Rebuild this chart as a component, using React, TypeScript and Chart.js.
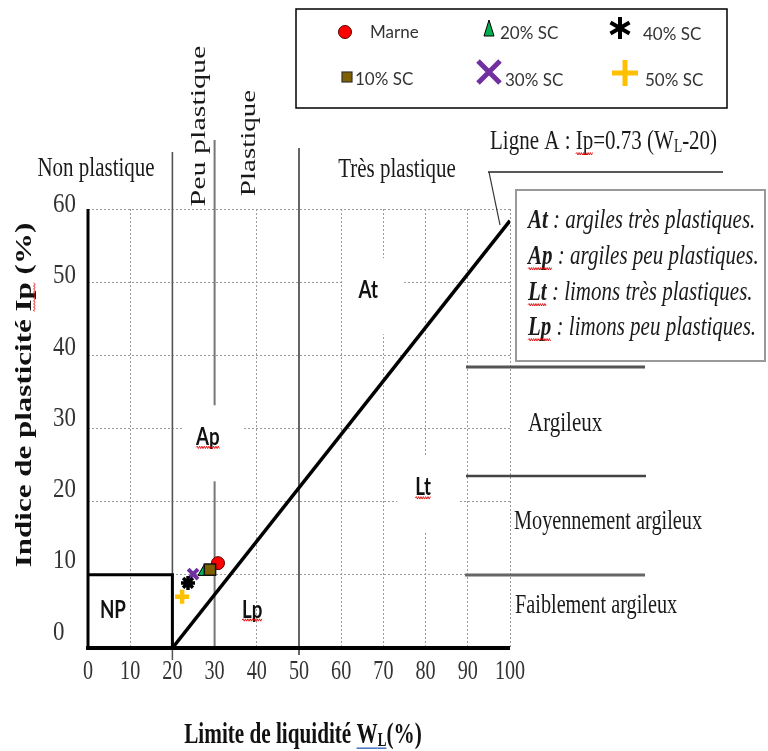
import React, { useEffect, useRef } from 'react';
import { Chart, registerables } from 'chart.js';
Chart.register(...registerables);

// ---------- data ----------
const xTickValues = [0, 10, 20, 30, 40, 50, 60, 70, 80, 90, 100];
const xTickLabels = ['0', '10', '20', '30', '40', '50', '60', '70', '80', '90', '100'];
const yTickValues = [0, 10, 20, 30, 40, 50, 60];
const yTickLabels = ['0', '10', '20', '30', '40', '50', '60'];

const seriesNames = ['Marne', '10% SC', '20% SC', '30% SC', '40% SC', '50% SC'];
const seriesWL = [30.8, 28.9, 27.5, 24.9, 23.7, 22.3];
const seriesIp = [11.6, 10.7, 10.4, 10.1, 8.9, 7.0];

const aLineWL = [20, 100];
const aLineIp = [0, 58.4];

const regionNames = ['At', 'Ap', 'Lt', 'Lp', 'NP'];
const regionWL = [66.4, 28.4, 79.4, 38.9, 5.9];
const regionIp = [48.9, 28.8, 21.9, 5.2, 5.1];

// ---------- styles ----------
const SERIF = '"Liberation Serif","Times New Roman",serif';
const SANS = 'Lato,"Open Sans",sans-serif';

const pointStyles = [
  { pointStyle: 'circle', radius: 6.5, bg: '#ff0000', border: '#550000', bw: 1, order: 1 },
  { pointStyle: 'rect', radius: 8, bg: '#7f6000', border: '#111111', bw: 1.5, order: 0 },
  { pointStyle: 'triangle', radius: 7, bg: '#00b050', border: '#000000', bw: 1, order: 2 },
  { pointStyle: 'crossRot', radius: 7, bg: '#7030a0', border: '#7030a0', bw: 4, order: 4 },
  { pointStyle: 'star', radius: 7, bg: '#000000', border: '#000000', bw: 3.5, order: 3 },
  { pointStyle: 'cross', radius: 7, bg: '#ffc000', border: '#ffc000', bw: 4.5, order: 5 },
];

type Seg = { t: string; font: string; dy?: number; ul?: 'wavy' | 'blue' };

function drawRich(
  ctx: CanvasRenderingContext2D,
  segs: Seg[],
  x: number,
  y: number,
  align: 'left' | 'center' | 'right',
  sx: number,
  color: string,
  rot = false,
  fs = 28
) {
  ctx.save();
  ctx.translate(x, y);
  if (rot) {
    ctx.rotate(-Math.PI / 2);
    ctx.scale(1, sx);
  } else {
    ctx.scale(sx, 1);
  }
  ctx.textBaseline = 'middle';
  ctx.textAlign = 'left';
  let total = 0;
  const widths = segs.map((s) => {
    ctx.font = s.font;
    const w = ctx.measureText(s.t).width;
    total += w;
    return w;
  });
  let cx = align === 'left' ? 0 : align === 'center' ? -total / 2 : -total;
  segs.forEach((s, i) => {
    ctx.font = s.font;
    ctx.fillStyle = color;
    ctx.fillText(s.t, cx, s.dy || 0);
    if (s.ul) {
      const uy = fs * 0.42;
      if (s.ul === 'blue') {
        ctx.strokeStyle = '#4472c4';
        ctx.lineWidth = 1.5;
        ctx.beginPath();
        ctx.moveTo(cx, uy);
        ctx.lineTo(cx + widths[i], uy);
        ctx.stroke();
      } else {
        ctx.strokeStyle = '#e00000';
        ctx.lineWidth = 1;
        ctx.beginPath();
        let up = true;
        ctx.moveTo(cx, uy);
        for (let px = cx + 1.5; px <= cx + widths[i]; px += 1.5) {
          ctx.lineTo(px, uy + (up ? -1.2 : 1.2));
          up = !up;
        }
        ctx.stroke();
      }
    }
    cx += widths[i];
  });
  ctx.restore();
}

function txt(
  ctx: CanvasRenderingContext2D,
  t: string,
  x: number,
  y: number,
  font: string,
  align: 'left' | 'center' | 'right',
  sx: number,
  color = '#1a1a1a',
  rot = false
) {
  drawRich(ctx, [{ t, font }], x, y, align, sx, color, rot);
}

function line(ctx: CanvasRenderingContext2D, x1: number, y1: number, x2: number, y2: number, color: string, w: number) {
  ctx.save();
  ctx.strokeStyle = color;
  ctx.lineWidth = w;
  ctx.setLineDash([]);
  ctx.beginPath();
  ctx.moveTo(x1, y1);
  ctx.lineTo(x2, y2);
  ctx.stroke();
  ctx.restore();
}

const decor = {
  id: 'decor',
  beforeDraw(chart: any) {
    const ctx = chart.ctx;
    ctx.save();
    ctx.fillStyle = '#ffffff';
    ctx.fillRect(0, 0, chart.width, chart.height);
    ctx.restore();
  },
  beforeDatasetsDraw(chart: any) {
    const ctx: CanvasRenderingContext2D = chart.ctx;
    const xs = chart.scales.x;
    const ys = chart.scales.y;
    const a = chart.chartArea;
    const X = (v: number) => xs.getPixelForValue(v);
    const Y = (v: number) => ys.getPixelForValue(v);

    // class boundaries
    line(ctx, X(30), 140, X(30), a.bottom, '#777', 2);
    line(ctx, X(50), 148, X(50), a.bottom + 7, '#666', 2);
    line(ctx, X(20), 152, X(20), Y(10), '#555', 1.6);
    line(ctx, X(20), a.bottom, X(20), a.bottom + 12, '#555', 1.5);

    // white gaps behind region labels
    ctx.save();
    ctx.fillStyle = '#ffffff';
    [0, 1, 2].forEach((i) => {
      const cx = X(regionWL[i]);
      const cy = Y(regionIp[i]);
      ctx.fillRect(cx - 26, cy - 32, 62, 76);
    });
    ctx.restore();

    // NP box
    ctx.save();
    ctx.strokeStyle = '#000';
    ctx.lineWidth = 3;
    ctx.beginPath();
    ctx.moveTo(X(0), Y(10));
    ctx.lineTo(X(20), Y(10));
    ctx.lineTo(X(20), Y(0));
    ctx.stroke();
    ctx.restore();

    // axes
    line(ctx, a.left, a.top, a.left, a.bottom + 2, '#000', 3);
    line(ctx, a.left - 2, a.bottom, a.right, a.bottom, '#000', 4);
  },
  afterDraw(chart: any) {
    const ctx: CanvasRenderingContext2D = chart.ctx;
    const xs = chart.scales.x;
    const ys = chart.scales.y;
    const X = (v: number) => xs.getPixelForValue(v);
    const Y = (v: number) => ys.getPixelForValue(v);

    // tick labels
    xTickValues.forEach((v, i) => {
      txt(ctx, xTickLabels[i], X(v), 672, `28px ${SERIF}`, 'center', 0.72, '#333');
    });
    yTickValues.forEach((v, i) => {
      txt(ctx, yTickLabels[i], 53, Y(v) - 4 - (60 - v) * 0.19, `27px ${SERIF}`, 'left', 0.85, '#333');
    });

    // axis titles
    drawRich(
      ctx,
      [
        { t: 'Limite de liquidité ', font: `bold 29px ${SERIF}` },
        { t: 'W', font: `bold 29px ${SERIF}`, ul: 'blue' },
        { t: 'L', font: `bold 18px ${SERIF}`, dy: 5, ul: 'blue' },
        { t: '(%)', font: `bold 29px ${SERIF}` },
      ],
      303,
      736,
      'center',
      0.73,
      '#111',
      false,
      29
    );
    drawRich(
      ctx,
      [
        { t: 'Indice de plasticité ', font: `bold 31px ${SERIF}` },
        { t: 'Ip', font: `bold 31px ${SERIF}`, ul: 'wavy' },
        { t: ' (%)', font: `bold 31px ${SERIF}` },
      ],
      25,
      395,
      'center',
      0.72,
      '#111',
      true,
      31
    );

    // region labels
    regionNames.forEach((n, i) => {
      drawRich(
        ctx,
        [{ t: n, font: `bold 24px ${SANS}`, ul: i >= 1 && i <= 3 ? 'wavy' : undefined }],
        X(regionWL[i]),
        Y(regionIp[i]),
        'center',
        0.78,
        '#111',
        false,
        24
      );
    });

    // plasticity headers
    txt(ctx, 'Non plastique', 96, 169, `28px ${SERIF}`, 'center', 0.75);
    txt(ctx, 'Peu plastique', 199, 126, `30px ${SERIF}`, 'center', 0.7, '#1a1a1a', true);
    txt(ctx, 'Plastique', 250, 143, `29px ${SERIF}`, 'center', 0.7, '#1a1a1a', true);
    txt(ctx, 'Très plastique', 397, 170, `28px ${SERIF}`, 'center', 0.75);

    // Ligne A
    drawRich(
      ctx,
      [
        { t: 'Ligne A : ', font: `28px ${SERIF}` },
        { t: 'Ip', font: `28px ${SERIF}`, ul: 'wavy' },
        { t: '=0.73 (W', font: `28px ${SERIF}` },
        { t: 'L', font: `18px ${SERIF}`, dy: 5 },
        { t: '-20)', font: `28px ${SERIF}` },
      ],
      490,
      142,
      'left',
      0.75,
      '#1a1a1a',
      false,
      28
    );
    line(ctx, 488, 172, 723, 172, '#222', 1.5);
    line(ctx, 489, 172, 500, 225, '#333', 1.2);

    // definitions box
    ctx.save();
    ctx.strokeStyle = '#999';
    ctx.lineWidth = 2;
    ctx.strokeRect(516, 190, 249, 171);
    ctx.restore();
    const defs: [string, string][] = [
      ['At', ' : argiles très plastiques.'],
      ['Ap', ' : argiles peu plastiques.'],
      ['Lt', ' : limons très plastiques.'],
      ['Lp', ' : limons peu plastiques.'],
    ];
    const defY = [221, 257, 293, 328];
    defs.forEach((d, i) => {
      drawRich(
        ctx,
        [
          { t: d[0], font: `italic bold 28px ${SERIF}`, ul: i > 0 ? 'wavy' : undefined },
          { t: d[1], font: `italic 28px ${SERIF}` },
        ],
        528,
        defY[i],
        'left',
        0.75,
        '#1a1a1a',
        false,
        28
      );
    });

    // clay classes
    line(ctx, 466, 367, 645, 367, '#555', 3);
    line(ctx, 466, 476, 646, 476, '#444', 2.5);
    line(ctx, 465, 575, 645, 575, '#666', 3);
    txt(ctx, 'Argileux', 528, 424, `28px ${SERIF}`, 'left', 0.75);
    txt(ctx, 'Moyennement argileux', 514, 522, `27px ${SERIF}`, 'left', 0.75);
    txt(ctx, 'Faiblement argileux', 515, 606, `27px ${SERIF}`, 'left', 0.75);

    // legend
    ctx.save();
    ctx.strokeStyle = '#000';
    ctx.lineWidth = 1.5;
    ctx.strokeRect(296, 9, 431, 99);
    // Marne circle
    ctx.beginPath();
    ctx.arc(345, 32, 6.5, 0, Math.PI * 2);
    ctx.fillStyle = pointStyles[0].bg;
    ctx.fill();
    ctx.strokeStyle = '#550000';
    ctx.lineWidth = 1;
    ctx.stroke();
    // 20% triangle
    ctx.beginPath();
    ctx.moveTo(489, 20);
    ctx.lineTo(494, 36);
    ctx.lineTo(484, 36);
    ctx.closePath();
    ctx.fillStyle = pointStyles[2].bg;
    ctx.fill();
    ctx.strokeStyle = '#000';
    ctx.lineWidth = 1;
    ctx.stroke();
    // 40% star
    ctx.strokeStyle = '#000';
    ctx.lineWidth = 4;
    ctx.beginPath();
    for (let k = 0; k < 3; k++) {
      const ang = Math.PI / 2 + (k * Math.PI) / 3;
      ctx.moveTo(620 + Math.cos(ang) * 11, 28 - Math.sin(ang) * 11);
      ctx.lineTo(620 - Math.cos(ang) * 11, 28 + Math.sin(ang) * 11);
    }
    ctx.stroke();
    // 10% square
    ctx.fillStyle = pointStyles[1].bg;
    ctx.fillRect(342, 72, 10, 10);
    ctx.strokeStyle = '#333';
    ctx.lineWidth = 1.2;
    ctx.strokeRect(342, 72, 10, 10);
    // 30% X
    ctx.strokeStyle = pointStyles[3].border;
    ctx.lineWidth = 5;
    ctx.beginPath();
    ctx.moveTo(478, 61);
    ctx.lineTo(500, 83);
    ctx.moveTo(500, 61);
    ctx.lineTo(478, 83);
    ctx.stroke();
    // 50% plus
    ctx.strokeStyle = pointStyles[5].border;
    ctx.lineWidth = 5;
    ctx.beginPath();
    ctx.moveTo(612, 73);
    ctx.lineTo(638, 73);
    ctx.moveTo(625, 60);
    ctx.lineTo(625, 86);
    ctx.stroke();
    ctx.restore();

    const lf = `17px ${SANS}`;
    txt(ctx, seriesNames[0], 370, 33, lf, 'left', 1, '#333');
    txt(ctx, seriesNames[2], 500, 34, lf, 'left', 1, '#333');
    txt(ctx, seriesNames[4], 643, 35, lf, 'left', 1, '#333');
    txt(ctx, seriesNames[1], 355, 80, lf, 'left', 1, '#333');
    txt(ctx, seriesNames[3], 505, 81, lf, 'left', 1, '#333');
    txt(ctx, seriesNames[5], 645, 81, lf, 'left', 1, '#333');
  },
};

export default function App() {
  const ref = useRef<HTMLCanvasElement>(null);
  useEffect(() => {
    const datasets: any[] = seriesNames.map((name, i) => ({
      label: name,
      data: [{ x: seriesWL[i], y: seriesIp[i] }],
      pointStyle: pointStyles[i].pointStyle,
      pointRadius: pointStyles[i].radius,
      pointBackgroundColor: pointStyles[i].bg,
      pointBorderColor: pointStyles[i].border,
      pointBorderWidth: pointStyles[i].bw,
      order: pointStyles[i].order,
    }));
    datasets.push({
      label: 'Ligne A',
      data: aLineWL.map((x, i) => ({ x, y: aLineIp[i] })),
      showLine: true,
      borderColor: '#000',
      borderWidth: 3.5,
      pointRadius: 0,
      order: 10,
    });
    const chart = new Chart(ref.current!, {
      type: 'scatter',
      data: { datasets },
      options: {
        responsive: false,
        animation: false,
        layout: { padding: { left: 88, top: 209, right: 258, bottom: 103 } },
        plugins: { legend: { display: false }, tooltip: { enabled: false } },
        scales: {
          x: {
            type: 'linear',
            min: 0,
            max: 100,
            ticks: { display: false, stepSize: 10 },
            grid: { color: '#9a9a9a', lineWidth: 1, drawTicks: false },
            border: { display: false, dash: [2, 2] },
          },
          y: {
            type: 'linear',
            min: 0,
            max: 60,
            ticks: { display: false, stepSize: 10 },
            grid: { color: '#9a9a9a', lineWidth: 1, drawTicks: false },
            border: { display: false, dash: [2, 2] },
          },
        },
      } as any,
      plugins: [decor as any],
    });
    return () => chart.destroy();
  }, []);
  return (
    <div style={{ position: 'fixed', left: 0, top: 0, width: 768, height: 751, background: '#fff' }}>
      <canvas ref={ref} width={768} height={751} style={{ display: 'block', width: 768, height: 751 }} />
    </div>
  );
}
